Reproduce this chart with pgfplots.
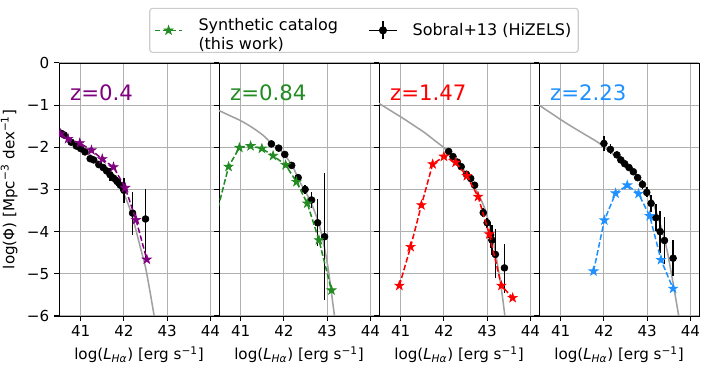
\documentclass[border=0pt]{standalone}
\usepackage{fontspec}
\setmainfont{DejaVu Sans}
\usepackage{pgfplots}
\pgfplotsset{compat=1.18}

\definecolor{mpurple}{HTML}{800080}
\definecolor{mgreen}{HTML}{228B22}
\definecolor{mred}{HTML}{FF0000}
\definecolor{mblue}{HTML}{1E90FF}
\definecolor{gridgray}{HTML}{B0B0B0}
\definecolor{fitgray}{HTML}{A0A0A0}
\definecolor{legendgray}{HTML}{CCCCCC}

% filled five-pointed star, like matplotlib's '*'
\pgfdeclareplotmark{fstar}{%
  \pgfpathmoveto{\pgfpointpolar{90}{\pgfplotmarksize}}%
  \pgfpathlineto{\pgfpointpolar{126}{0.382\pgfplotmarksize}}%
  \pgfpathlineto{\pgfpointpolar{162}{\pgfplotmarksize}}%
  \pgfpathlineto{\pgfpointpolar{198}{0.382\pgfplotmarksize}}%
  \pgfpathlineto{\pgfpointpolar{234}{\pgfplotmarksize}}%
  \pgfpathlineto{\pgfpointpolar{270}{0.382\pgfplotmarksize}}%
  \pgfpathlineto{\pgfpointpolar{306}{\pgfplotmarksize}}%
  \pgfpathlineto{\pgfpointpolar{342}{0.382\pgfplotmarksize}}%
  \pgfpathlineto{\pgfpointpolar{18}{\pgfplotmarksize}}%
  \pgfpathlineto{\pgfpointpolar{54}{0.382\pgfplotmarksize}}%
  \pgfpathclose
  \pgfusepathqfillstroke}

\tikzset{zlab/.style={anchor=base west, inner xsep=0pt,
    font=\fontsize{15.3}{18}\selectfont, text=#1}}

\pgfplotsset{
  panel/.style={
    scale only axis, width=115.2pt, height=182.2pt,
    xmin=40.5, xmax=44.2, ymin=-6, ymax=0,
    xtick={41,42,43,44}, xticklabels={41,42,43,44},
    ytick={-6,-5,-4,-3,-2,-1,0},
    grid=major, grid style={color=gridgray, line width=0.8pt},
    axis line style={line width=0.6pt},
    tick style={black, line width=0.8pt}, tick align=outside,
    major tick length=3.5pt,
    xtick pos=bottom, ytick pos=left,
    tick label style={font=\fontsize{10.9}{13}\selectfont},
    label style={font=\fontsize{10.9}{13}\selectfont},
    xlabel={log(\textit{L}\textsubscript{\textit{Hα}}) [erg s\textsuperscript{−1}]},
    clip marker paths=true,
  },
  fit/.style={fitgray, line width=1.1pt, smooth, no marks, forget plot},
  sobral/.style={only marks, black, mark=*, mark size=2.5pt, forget plot,
    error bars/.cd, y dir=both, y explicit,
    error bar style={line width=1.2pt, black}, error mark=none},
  synth/.style={line width=1.1pt, dash pattern=on 4pt off 1.8pt,
    mark=fstar, mark size=3.4pt,
    mark options={solid, fill=#1, line width=0.5pt}, color=#1},
}

\begin{document}
\begin{tikzpicture}
  \path[use as bounding box] (-42.5pt,-38.2pt) rectangle (465.8pt,227.5pt);
  % z = 0.4
  \begin{axis}[panel, at={(0pt,0pt)},
      yticklabels={−6,−5,−4,−3,−2,−1,0},
      ylabel={log(Φ) [Mpc\textsuperscript{−3} dex\textsuperscript{−1}]}]
    \addplot[fit] coordinates {
      (40.5,-1.63) (40.75,-1.80) (41.0,-2.00) (41.25,-2.20) (41.5,-2.42)
      (41.75,-2.66) (41.9,-2.85) (42.0,-3.10) (42.1,-3.35) (42.2,-3.65)
      (42.3,-4.05) (42.4,-4.45) (42.5,-4.85) (42.6,-5.40) (42.7,-6.00)};
    \addplot[sobral] coordinates {
      (40.55,-1.67) +- (0,0.03) (40.62,-1.71) +- (0,0.03)
      (40.78,-1.88) +- (0,0.03) (40.90,-1.97) +- (0,0.03)
      (41.00,-2.03) +- (0,0.03) (41.10,-2.11) +- (0,0.04)
      (41.22,-2.27) +- (0,0.04) (41.30,-2.30) +- (0,0.04)
      (41.42,-2.41) +- (0,0.05) (41.52,-2.48) +- (0,0.06)
      (41.60,-2.56) +- (0,0.07) (41.68,-2.65) +- (0,0.15)
      (41.76,-2.73) +- (0,0.09) (41.84,-2.81) +- (0,0.10)
      (41.92,-2.90) +- (0,0.12) (42.00,-3.02) +- (0,0.30)
      (42.20,-3.56) += (0,0.50) -= (0,0.51)
      (42.50,-3.70) += (0,0.70) -= (0,0.96)};
    \addplot[synth=mpurple, forget plot] coordinates {
      (40.53,-1.68) (40.71,-1.80) (40.98,-1.90) (41.25,-2.07) (41.50,-2.28)
      (41.76,-2.47) (42.03,-2.96) (42.28,-3.72) (42.53,-4.66)};
    \node[zlab=mpurple] at (axis cs:40.75,-0.894) {z=0.4};
  \end{axis}
  % z = 0.84
  \begin{axis}[panel, at={(115.2pt,0pt)}, yticklabels={},
      legend style={at={(0.906,1.0395)}, anchor=south, legend columns=2,
        draw=legendgray, line width=0.8pt, rounded corners=2pt,
        inner xsep=3pt, inner ysep=5pt,
        /tikz/every odd column/.append style={column sep=9pt},
        /tikz/every even column/.append style={column sep=20pt}},
      legend cell align=left]
    \addlegendimage{legend image code/.code={
        \draw[mgreen, line width=1.1pt, dash pattern=on 4pt off 1.8pt]
          (0pt,0pt) -- (20pt,0pt);
        \draw[mgreen, fill=mgreen, line width=0.5pt]
          plot[mark=fstar, mark size=3.4pt] coordinates {(10pt,0pt)};}}
    \addlegendentry{\fontsize{11.5}{13.2}\selectfont
      \begin{tabular}{@{}l@{}}Synthetic catalog\\(this work)\end{tabular}}
    \addlegendimage{legend image code/.code={
        \draw[black, line width=1.2pt] (10pt,-6.5pt) -- (10pt,6.5pt);
        \fill[black] (10pt,0pt) circle (2.5pt);
        \path (0pt,0pt) -- (20pt,0pt);}}
    \addlegendentry{\fontsize{11.5}{13.2}\selectfont Sobral+13 (HiZELS)}
    \addplot[fit] coordinates {
      (40.5,-1.13) (40.75,-1.25) (41.0,-1.37) (41.25,-1.52) (41.5,-1.70)
      (41.7,-1.89) (41.85,-2.00) (42.0,-2.16) (42.2,-2.45) (42.38,-2.84)
      (42.55,-3.15) (42.69,-3.47) (42.82,-3.85) (42.93,-4.34) (43.02,-4.85)
      (43.08,-5.30) (43.17,-6.00)};
    \addplot[sobral] coordinates {
      (41.71,-1.92) +- (0,0.03) (41.88,-2.02) +- (0,0.03)
      (42.02,-2.17) +- (0,0.04) (42.18,-2.43) +- (0,0.05)
      (42.33,-2.72) +- (0,0.08) (42.49,-3.00) +- (0,0.10)
      (42.64,-3.25) +- (0,0.18)
      (42.78,-3.79) += (0,0.56) -= (0,0.55)
      (42.94,-4.12) += (0,1.50) -= (0,1.50)};
    \addplot[synth=mgreen, forget plot] coordinates {
      (40.20,-4.55) (40.72,-2.46) (40.97,-2.01) (41.23,-1.97) (41.49,-2.03)
      (41.75,-2.20) (42.04,-2.42) (42.29,-2.82) (42.54,-3.33) (42.81,-4.20)
      (43.10,-5.39)};
    \node[zlab=mgreen] at (axis cs:40.75,-0.894) {z=0.84};
  \end{axis}
  % z = 1.47
  \begin{axis}[panel, at={(230.4pt,0pt)}, yticklabels={}]
    \addplot[fit] coordinates {
      (40.5,-0.96) (40.75,-1.12) (41.08,-1.33) (41.3,-1.48) (41.55,-1.65)
      (41.8,-1.85) (42.0,-2.01) (42.15,-2.17) (42.33,-2.36) (42.5,-2.60)
      (42.64,-2.84) (42.8,-3.12) (42.95,-3.47) (43.08,-3.95) (43.18,-4.42)
      (43.33,-5.37) (43.41,-6.00)};
    \addplot[sobral] coordinates {
      (42.11,-2.10) +- (0,0.03) (42.21,-2.22) +- (0,0.03)
      (42.31,-2.35) +- (0,0.03) (42.40,-2.46) +- (0,0.04)
      (42.52,-2.64) +- (0,0.05) (42.62,-2.74) +- (0,0.06)
      (42.71,-2.90) +- (0,0.08) (42.91,-3.55) +- (0,0.10)
      (43.00,-3.79) +- (0,0.12) (43.08,-4.08) +- (0,0.30)
      (43.11,-4.20) +- (0,0.35)
      (43.19,-4.54) += (0,0.60) -= (0,0.55)
      (43.40,-4.86) += (0,0.56) -= (0,0.59)};
    \addplot[synth=mred, forget plot] coordinates {
      (40.97,-5.28) (41.23,-4.36) (41.48,-3.37) (41.74,-2.40) (42.00,-2.22)
      (42.27,-2.36) (42.53,-2.68) (42.79,-3.17) (43.05,-4.06) (43.33,-5.28)
      (43.59,-5.57)};
    \node[zlab=mred] at (axis cs:40.75,-0.894) {z=1.47};
  \end{axis}
  % z = 2.23
  \begin{axis}[panel, at={(345.6pt,0pt)}, yticklabels={}]
    \addplot[fit] coordinates {
      (40.5,-1.00) (41.1,-1.41) (41.5,-1.66) (41.87,-1.89) (42.26,-2.20)
      (42.64,-2.52) (42.95,-2.92) (43.19,-3.47) (43.42,-4.26) (43.57,-5.05)
      (43.73,-6.00)};
    \addplot[sobral] coordinates {
      (42.00,-1.91) +- (0,0.17) (42.15,-2.05) +- (0,0.12)
      (42.30,-2.18) +- (0,0.05) (42.39,-2.30) +- (0,0.05)
      (42.48,-2.39) +- (0,0.05) (42.58,-2.48) +- (0,0.05)
      (42.68,-2.58) +- (0,0.05) (42.78,-2.72) +- (0,0.08)
      (42.89,-2.88) +- (0,0.10) (42.99,-3.07) +- (0,0.12)
      (43.09,-3.33) +- (0,0.20) (43.20,-3.67) +- (0,0.32)
      (43.30,-4.00) +- (0,0.50) (43.40,-4.21) +- (0,0.55)
      (43.60,-4.63) +- (0,0.42)};
    \addplot[synth=mblue, forget plot] coordinates {
      (41.76,-4.94) (42.01,-3.73) (42.27,-3.09) (42.54,-2.90) (42.80,-3.10)
      (43.06,-3.63) (43.32,-4.67) (43.60,-5.35)};
    \node[zlab=mblue] at (axis cs:40.75,-0.894) {z=2.23};
  \end{axis}
\end{tikzpicture}
\end{document}
